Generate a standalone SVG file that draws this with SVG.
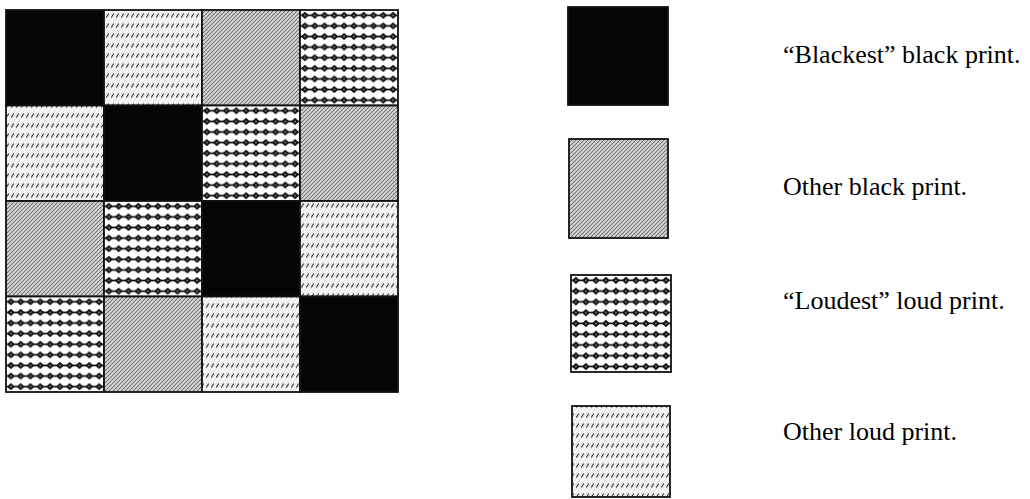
<svg xmlns="http://www.w3.org/2000/svg" width="1030" height="499" viewBox="0 0 1030 499">
<defs>
<style>
.cell{stroke:#111;stroke-width:1.8}
.blk{fill:#050505}
.gry{fill:url(#pGray)}
.dot{fill:url(#pDots)}
.lgt{fill:url(#pLight)}
.lab{font-family:"Liberation Serif","Times New Roman",serif;font-size:26px;fill:#000}
</style>
<pattern id="pDots" patternUnits="objectBoundingBox" width="0.1" height="0.1111">
<rect x="0" y="0" width="11" height="11" fill="#fff"/>
<line x1="0" y1="5.3" x2="11" y2="5.3" stroke="#000" stroke-width="1.6"/>
<path d="M4.9 1.6 L8.9 5.3 L4.9 9 L0.9 5.3 Z" fill="#111"/>
<circle cx="4.9" cy="5.3" r="1" fill="#777"/>
</pattern>
<pattern id="pGray" patternUnits="userSpaceOnUse" width="4" height="4">
<rect width="4" height="4" fill="#d2d2d2"/>
<path d="M-1 1 L1 -1 M0 4 L4 0 M3 5 L5 3" stroke="#4a4a4a" stroke-width="0.75"/>
<path d="M0 0 L4 4" stroke="#9a9a9a" stroke-width="0.4"/>
</pattern>
<pattern id="pLight" patternUnits="userSpaceOnUse" width="5" height="10">
<rect width="5" height="10" fill="#f6f6f6"/>
<path d="M-1 1 L1 -1 M0 5 L5 0 M0 10 L5 5 M4 11 L6 9" stroke="#cfcfcf" stroke-width="0.6"/>
<path d="M1.2 7.5 L3.8 3.5" stroke="#2a2a2a" stroke-width="1.1"/>
</pattern>
</defs>

<g id="grid">
<g id="r1c1"><rect class="cell blk" x="6" y="10" width="98" height="95.5"/></g>
<g id="r1c2"><rect class="cell lgt" x="104" y="10" width="98" height="95.5"/></g>
<g id="r1c3"><rect class="cell gry" x="202" y="10" width="98" height="95.5"/></g>
<g id="r1c4"><rect class="cell dot" x="300" y="10" width="98" height="95.5"/></g>

<g id="r2c1"><rect class="cell lgt" x="6" y="105.5" width="98" height="95.5"/></g>
<g id="r2c2"><rect class="cell blk" x="104" y="105.5" width="98" height="95.5"/></g>
<g id="r2c3"><rect class="cell dot" x="202" y="105.5" width="98" height="95.5"/></g>
<g id="r2c4"><rect class="cell gry" x="300" y="105.5" width="98" height="95.5"/></g>

<g id="r3c1"><rect class="cell gry" x="6" y="201" width="98" height="95.5"/></g>
<g id="r3c2"><rect class="cell dot" x="104" y="201" width="98" height="95.5"/></g>
<g id="r3c3"><rect class="cell blk" x="202" y="201" width="98" height="95.5"/></g>
<g id="r3c4"><rect class="cell lgt" x="300" y="201" width="98" height="95.5"/></g>

<g id="r4c1"><rect class="cell dot" x="6" y="296.5" width="98" height="95.5"/></g>
<g id="r4c2"><rect class="cell gry" x="104" y="296.5" width="98" height="95.5"/></g>
<g id="r4c3"><rect class="cell lgt" x="202" y="296.5" width="98" height="95.5"/></g>
<g id="r4c4"><rect class="cell blk" x="300" y="296.5" width="98" height="95.5"/></g>
</g>

<g id="connectors"></g>

<g id="legend-blackest">
<rect class="cell blk" x="568" y="7" width="100" height="98"/>
<text class="lab" font-family="Liberation Serif, serif" x="783" y="63">“Blackest” black print.</text>
</g>
<g id="legend-otherblack">
<rect class="cell gry" x="569" y="139" width="99" height="99"/>
<text class="lab" font-family="Liberation Serif, serif" x="783" y="195">Other black print.</text>
</g>
<g id="legend-loudest">
<rect class="cell dot" x="571" y="275" width="100" height="97"/>
<text class="lab" font-family="Liberation Serif, serif" x="783" y="309">“Loudest” loud print.</text>
</g>
<g id="legend-otherloud">
<rect class="cell lgt" x="572" y="406" width="98" height="91"/>
<text class="lab" font-family="Liberation Serif, serif" x="783" y="440">Other loud print.</text>
</g>
</svg>
